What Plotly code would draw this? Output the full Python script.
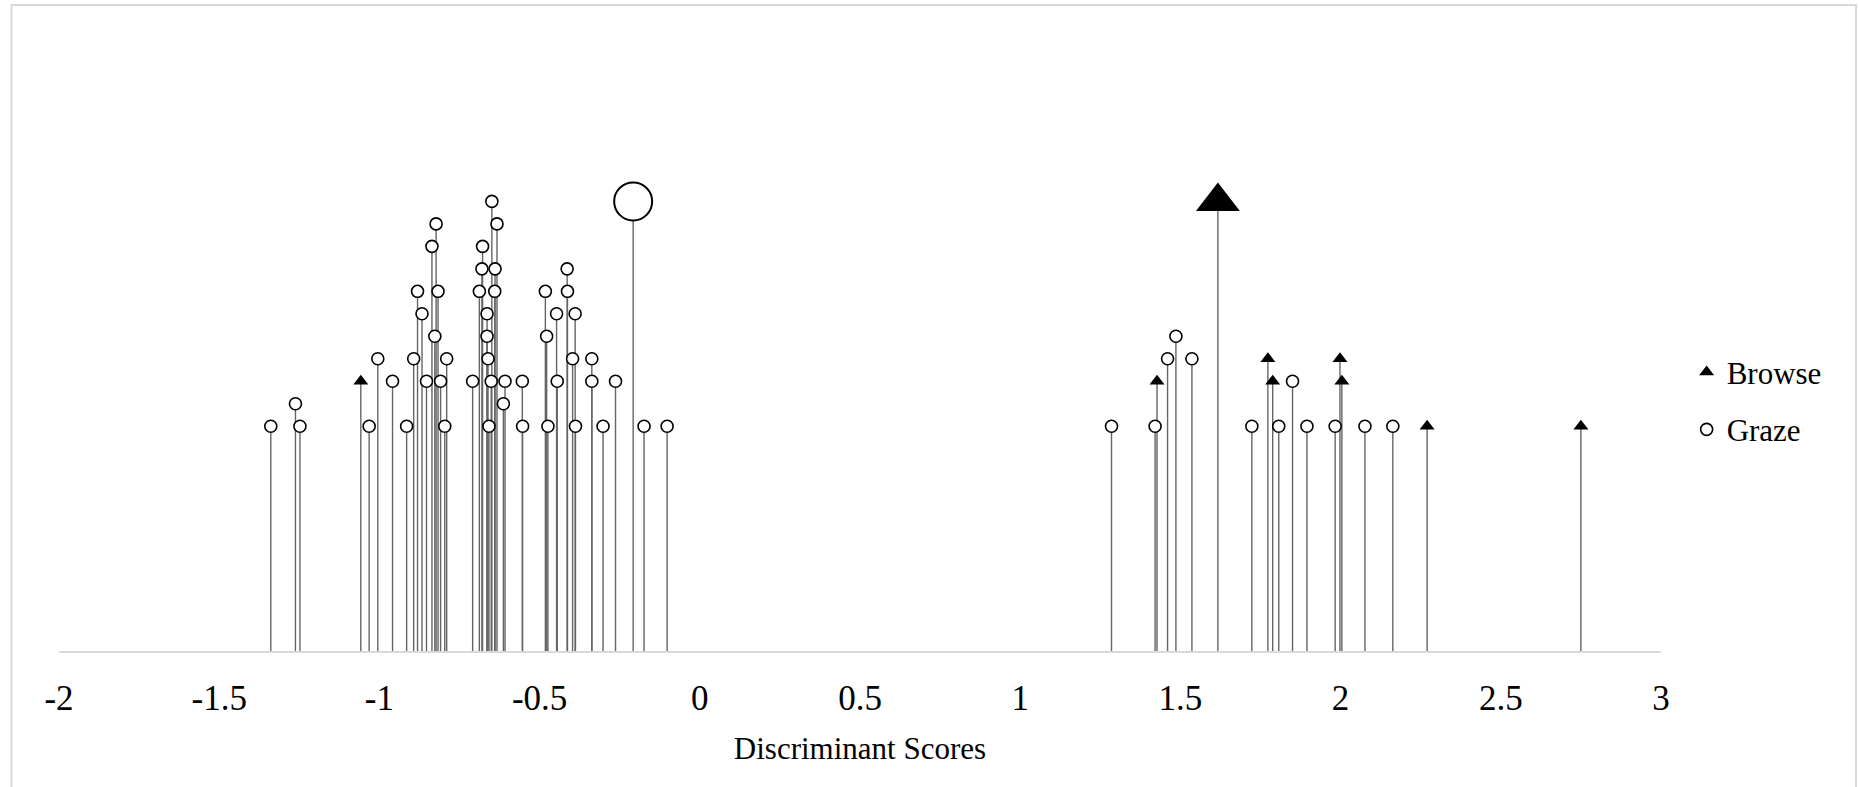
import plotly.graph_objects as go

# ---- data (discriminant scores; y = stacking height of each observation) ----
graze_x = [-1.339, -1.248, -1.032, -0.915, -0.796, -0.658, -0.553, -0.474, -0.388, -0.302, -0.174, -0.102,
           1.285, 1.421, 1.723, 1.807, 1.895, 1.983, 2.076, 2.163,
           -1.262, -0.613,
           -0.959, -0.853, -0.809, -0.709, -0.651, -0.608, -0.554, -0.445, -0.337, -0.263, 1.850,
           -1.005, -0.893, -0.790, -0.661, -0.397, -0.337, 1.460, 1.536,
           -0.827, -0.664, -0.478, 1.486,
           -0.867, -0.664, -0.447, -0.389,
           -0.881, -0.817, -0.688, -0.640, -0.482, -0.413,
           -0.680, -0.639, -0.414,
           -0.836, -0.678,
           -0.823, -0.633,
           -0.649]
graze_y = [1.0, 1.0, 1.0, 1.0, 1.0, 1.0, 1.0, 1.0, 1.0, 1.0, 1.0, 1.0,
           1.0, 1.0, 1.0, 1.0, 1.0, 1.0, 1.0, 1.0,
           1.1, 1.1,
           1.2, 1.2, 1.2, 1.2, 1.2, 1.2, 1.2, 1.2, 1.2, 1.2, 1.2,
           1.3, 1.3, 1.3, 1.3, 1.3, 1.3, 1.3, 1.3,
           1.4, 1.4, 1.4, 1.4,
           1.5, 1.5, 1.5, 1.5,
           1.6, 1.6, 1.6, 1.6, 1.6, 1.6,
           1.7, 1.7, 1.7,
           1.8, 1.8,
           1.9, 1.9,
           2.0]

browse_x = [-1.058, 1.427, 1.773, 1.788, 1.998, 2.004, 2.270, 2.750]
browse_y = [1.2, 1.2, 1.3, 1.2, 1.3, 1.2, 1.0, 1.0]

centroid_graze_x = [-0.208]
centroid_graze_y = [2.0]
centroid_browse_x = [1.617]
centroid_browse_y = [2.0]

x_ticks = [-2, -1.5, -1, -0.5, 0, 0.5, 1, 1.5, 2, 2.5, 3]
x_title = "Discriminant Scores"

STEM = "#656565"
FONT = "Liberation Serif, Times New Roman, serif"


def stems(y):
    return dict(type="data", symmetric=False, array=[0] * len(y), arrayminus=list(y),
                width=0, thickness=1.4, color=STEM)


fig = go.Figure()

fig.add_trace(go.Scatter(
    x=browse_x, y=browse_y, mode="markers", name="Browse",
    legendgroup="b",
    marker=dict(symbol="triangle-up", size=13, color="black", line=dict(width=0)),
    error_y=stems(browse_y)))

fig.add_trace(go.Scatter(
    x=graze_x, y=graze_y, mode="markers", name="Graze",
    legendgroup="g",
    marker=dict(symbol="circle", size=12, color="white", line=dict(color="black", width=1.6)),
    error_y=stems(graze_y)))

fig.add_trace(go.Scatter(
    x=centroid_graze_x, y=centroid_graze_y, mode="markers", showlegend=False,
    marker=dict(symbol="circle", size=38, color="white", line=dict(color="black", width=2)),
    error_y=stems(centroid_graze_y)))

fig.add_trace(go.Scatter(
    x=centroid_browse_x, y=centroid_browse_y, mode="markers", showlegend=False,
    marker=dict(symbol="triangle-up", size=38, color="black", line=dict(width=0)),
    error_y=stems(centroid_browse_y)))

fig.update_layout(
    width=1859, height=787,
    margin=dict(l=59, r=198, t=89, b=136),
    paper_bgcolor="white", plot_bgcolor="white",
    font=dict(family=FONT, color="black"),
    showlegend=True,
    legend=dict(x=1.016, xanchor="left", y=0.445, yanchor="middle",
                font=dict(family=FONT, size=31, color="black"),
                traceorder="grouped", tracegroupgap=14,
                bgcolor="rgba(0,0,0,0)", borderwidth=0),
    xaxis=dict(range=[-2, 3], tickvals=x_ticks, ticktext=[f"{v:g}" for v in x_ticks],
               showgrid=False, zeroline=False, showline=True, linecolor="#d9d9d9", linewidth=2,
               ticks="", ticklabelstandoff=15,
               tickfont=dict(family=FONT, size=35, color="black"),
               title=dict(text=x_title, font=dict(family=FONT, size=31, color="black"), standoff=20)),
    yaxis=dict(range=[0, 2.5], visible=False, showgrid=False, zeroline=False),
    shapes=[dict(type="rect", xref="paper", yref="paper",
                 x0=-0.0297, x1=1.1217, y0=-0.27, y1=1.1495,
                 line=dict(color="#d9d9d9", width=2), fillcolor="rgba(0,0,0,0)", layer="below")],
)

fig.write_html("out.html", config={"displayModeBar": False},
               post_script="document.body.style.margin='0';document.body.style.padding='0';")
